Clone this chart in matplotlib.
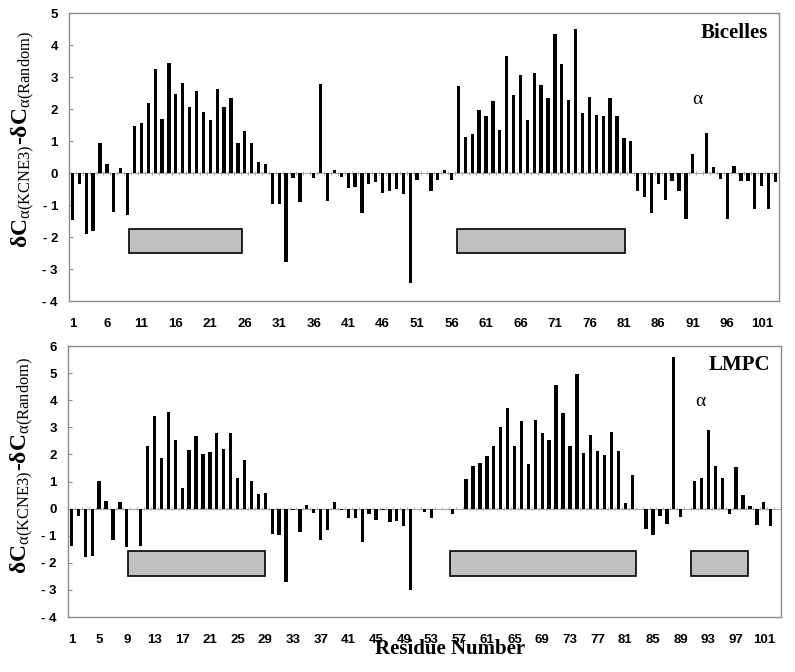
import numpy as np
import matplotlib
matplotlib.use('Agg')
import matplotlib.pyplot as plt
from matplotlib.patches import Rectangle

plt.rcParams['mathtext.fontset'] = 'custom'
plt.rcParams['mathtext.rm'] = 'Liberation Serif'
plt.rcParams['mathtext.it'] = 'Liberation Serif:italic'

# chemical shift differences, residues 1..103 (bicelles) and 1..102 (LMPC)
bicelles = [-1.47, -0.33, -1.92, -1.81, 0.94, 0.27, -1.21, 0.17, -1.32, 1.47,
            1.57, 2.18, 3.24, 1.70, 3.43, 2.46, 2.82, 2.06, 2.55, 1.92,
            1.65, 2.64, 2.06, 2.35, 0.94, 1.31, 0.94, 0.36, 0.27, -0.97,
            -0.97, -2.79, -0.17, -0.91, 0.0, -0.17, 2.77, -0.88, 0.11, -0.13,
            -0.46, -0.44, -1.26, -0.33, -0.27, -0.62, -0.56, -0.50, -0.65, -3.45,
            -0.21, 0.0, -0.56, -0.21, 0.09, -0.21, 2.71, 1.13, 1.22, 1.96,
            1.79, 2.24, 1.34, 3.66, 2.45, 3.05, 1.66, 3.13, 2.74, 2.35,
            4.33, 3.42, 2.27, 4.50, 1.89, 2.39, 1.82, 1.78, 2.35, 1.78,
            1.08, 0.99, -0.56, -0.74, -1.26, -0.33, -0.84, -0.25, -0.56, -1.45,
            0.61, 0.0, 1.25, 0.18, -0.20, -1.43, 0.23, -0.25, -0.25, -1.12,
            -0.42, -1.12, -0.29]
lmpc = [-1.39, -0.28, -1.78, -1.76, 1.03, 0.27, -1.17, 0.23, -1.43, 0.0,
        -1.39, 2.31, 3.41, 1.86, 3.55, 2.53, 0.75, 2.16, 2.67, 2.03,
        2.09, 2.78, 2.21, 2.78, 1.14, 1.78, 1.03, 0.53, 0.58, -0.92,
        -0.96, -2.71, -0.04, -0.85, 0.12, -0.16, -1.14, -0.80, 0.26, -0.06,
        -0.33, -0.33, -1.23, -0.20, -0.42, -0.06, -0.49, -0.44, -0.63, -3.00,
        0.0, -0.12, -0.33, 0.0, 0.0, -0.20, 0.0, 1.11, 1.59, 1.70,
        1.94, 2.31, 3.03, 3.73, 2.30, 3.23, 1.66, 3.26, 2.78, 2.52,
        4.56, 3.54, 2.30, 4.97, 2.05, 2.71, 2.12, 1.98, 2.82, 2.12,
        0.20, 1.25, 0.0, -0.77, -0.97, -0.27, -0.55, 5.60, -0.31, 0.0,
        1.03, 1.14, 2.89, 1.59, 1.14, -0.20, 1.55, 0.52, 0.09, -0.59,
        0.26, -0.64]

# helix boxes (start residue, end residue)
helix_bic = [(9.25, 25.6), (56.8, 81.2)]
helix_lmpc = [(9.2, 29.0), (55.7, 82.5), (90.5, 98.7)]

n_res = 103
grey = '#8c8c8c'

fig = plt.figure(figsize=(7.95, 6.72), dpi=100)
ax1 = fig.add_axes([0.0868, 0.552, 0.893, 0.4286])
ax2 = fig.add_axes([0.0855, 0.0818, 0.897, 0.4033])


def draw_panel(ax, vals, ylim, xticks, helices, box_y, name, alpha_xy, fs_scale):
    res = np.arange(1, len(vals) + 1)
    ax.bar(res, vals, width=0.48, color='black', zorder=3)
    ax.set_xlim(0.5, n_res + 0.5)
    ax.set_ylim(*ylim)
    # category axis across zero with small tick marks
    ax.axhline(0, color='#aaaaaa', lw=0.8, zorder=2)
    bounds = np.arange(0.5, n_res + 1, 1.0)
    h = 0.05 * fs_scale
    ax.vlines(bounds, -h, h, color='#aaaaaa', lw=0.7, zorder=2)
    for s, e in helices:
        ax.add_patch(Rectangle((s, box_y[0]), e - s, box_y[1] - box_y[0],
                               facecolor='#c0c0c0', edgecolor='black', lw=1.2, zorder=4))
    yt = np.arange(ylim[0], ylim[1] + 1)
    ax.set_yticks(yt)
    ax.set_yticklabels([str(v) if v >= 0 else '- %d' % abs(v) for v in yt],
                       fontfamily='Liberation Sans', fontweight='bold', fontsize=9.5)
    ax.set_xticks(xticks)
    ax.set_xticklabels([str(v) for v in xticks], fontfamily='Liberation Sans',
                       fontweight='bold', fontsize=9.5)
    ax.tick_params(axis='x', length=0, pad=12)
    ax.tick_params(axis='y', direction='in', length=3, color=grey, pad=8)
    for sp in ax.spines.values():
        sp.set_color(grey)
        sp.set_linewidth(1.0)
    ax.text(0.985, 0.93, name, transform=ax.transAxes, ha='right', va='center',
            fontfamily='Liberation Serif', fontweight='bold', fontsize=15)
    ax.text(alpha_xy[0], alpha_xy[1], 'α', ha='center', va='center',
            fontfamily='Liberation Serif', fontsize=14)
    ax.set_ylabel(r'δC$_{\mathrm{α(KCNE3)}}$-δC$_{\mathrm{α(Random)}}$',
                  fontfamily='Liberation Serif', fontweight='bold', fontsize=17)
    ax.yaxis.set_label_coords(-0.045, 0.56)


draw_panel(ax1, bicelles, (-4, 5), np.arange(1, 102, 5), helix_bic, (-2.5, -1.75),
           'Bicelles', (91.7, 2.3), 1.0)
draw_panel(ax2, lmpc, (-4, 6), np.arange(1, 102, 4), helix_lmpc, (-2.5, -1.55),
           'LMPC', (91.9, 3.95), 1.15)

fig.text(450 / 795, 1 - 649 / 672, 'Residue Number', ha='center', va='center',
         fontfamily='Liberation Serif', fontweight='bold', fontsize=15)

fig.savefig('out.png', dpi=100)
